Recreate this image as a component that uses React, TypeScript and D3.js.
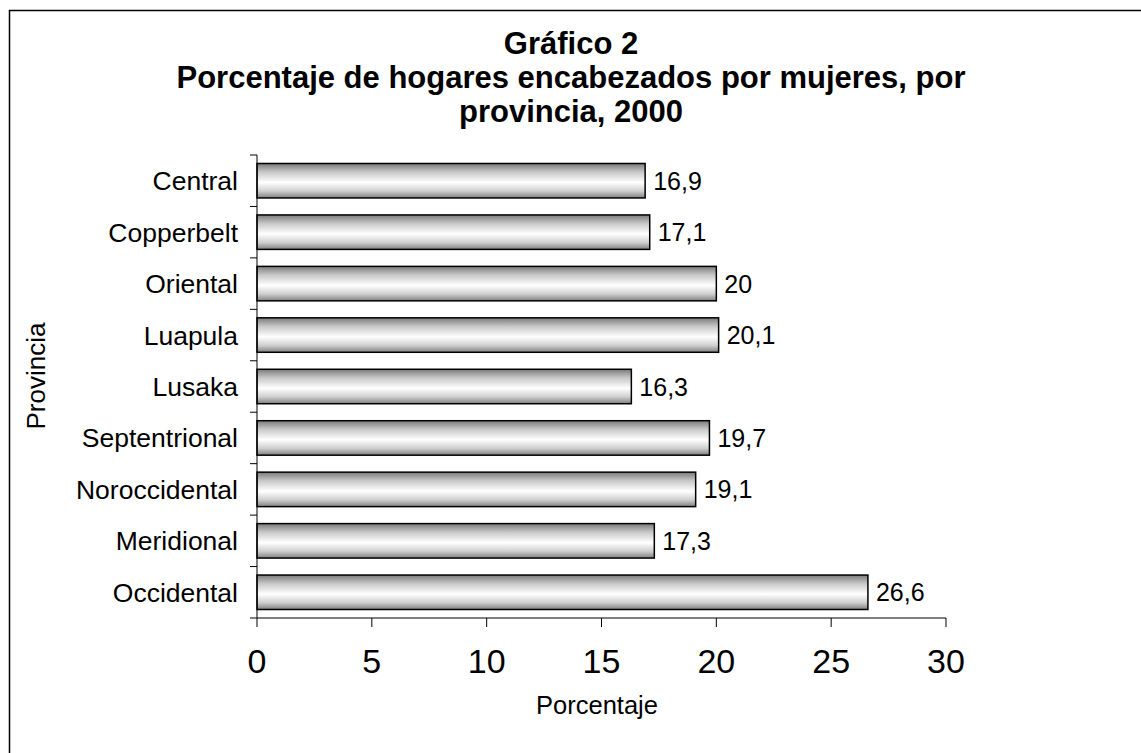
import React from "react";
import * as d3 from "d3";

const categories = ["Central", "Copperbelt", "Oriental", "Luapula", "Lusaka", "Septentrional", "Noroccidental", "Meridional", "Occidental"];
const values = [16.9, 17.1, 20, 20.1, 16.3, 19.7, 19.1, 17.3, 26.6];
const valueLabels = ["16,9", "17,1", "20", "20,1", "16,3", "19,7", "19,1", "17,3", "26,6"];
const xTicks = [0, 5, 10, 15, 20, 25, 30];
const titleLines = ["Gráfico 2", "Porcentaje de hogares encabezados por mujeres, por", "provincia, 2000"];

export default function App() {
  const W = 1141, H = 753;
  const left = 257, right = 946, top = 155, bottom = 618;
  const x = d3.scaleLinear().domain([0, 30]).range([left, right]);
  const y = d3.scaleBand().domain(categories).range([top, bottom]).paddingInner(0.33).paddingOuter(0.165);
  const font = "'Liberation Sans', Arial, sans-serif";
  const boundaries = d3.range(categories.length + 1).map(i => top + (i * (bottom - top)) / categories.length);
  return (
    <svg width={W} height={H} style={{ position: "absolute", left: 0, top: 0 }} fontFamily={font}>
      <defs>
        <linearGradient id="barGrad" x1="0" y1="0" x2="0" y2="1">
          <stop offset="0" stopColor="#7a7a7a" />
          <stop offset="0.25" stopColor="#c8c8c8" />
          <stop offset="0.55" stopColor="#ffffff" />
          <stop offset="0.8" stopColor="#cfcfcf" />
          <stop offset="1" stopColor="#808080" />
        </linearGradient>
      </defs>
      <rect x={0} y={0} width={W} height={H} fill="#fff" />
      <rect x={9.5} y={10.5} width={W + 20} height={H + 20} fill="#fff" stroke="#000" strokeWidth={1.5} />
      {titleLines.map((t, i) => (
        <text key={i} x={571} y={54 + i * 34} textAnchor="middle" fontWeight="bold" fontSize={31}>{t}</text>
      ))}
      {categories.map((c, i) => {
        const yy = y(c)!;
        const bw = y.bandwidth();
        return (
          <g key={c}>
            <rect x={x(0)} y={yy} width={x(values[i]) - x(0)} height={bw} fill="url(#barGrad)" stroke="#000" strokeWidth={1.5} />
            <text x={x(values[i]) + 8} y={yy + bw / 2} dy="0.36em" fontSize={25}>{valueLabels[i]}</text>
            <text x={238} y={yy + bw / 2} dy="0.36em" fontSize={26.5} textAnchor="end">{c}</text>
          </g>
        );
      })}
      <line x1={left} x2={left} y1={top} y2={bottom} stroke="#000" strokeWidth={1} />
      {boundaries.map((b, i) => (
        <line key={i} x1={left - 7} x2={left} y1={b} y2={b} stroke="#000" strokeWidth={1} />
      ))}
      <line x1={left} x2={right} y1={bottom} y2={bottom} stroke="#000" strokeWidth={1} />
      {xTicks.map(t => (
        <g key={t}>
          <line x1={x(t)} x2={x(t)} y1={bottom} y2={bottom + 9} stroke="#000" strokeWidth={1} />
          <text x={x(t)} y={673} textAnchor="middle" fontSize={34}>{t}</text>
        </g>
      ))}
      <text x={597} y={714} textAnchor="middle" fontSize={25.5}>Porcentaje</text>
      <text transform={`translate(45,376) rotate(-90)`} textAnchor="middle" fontSize={26}>Provincia</text>
    </svg>
  );
}
